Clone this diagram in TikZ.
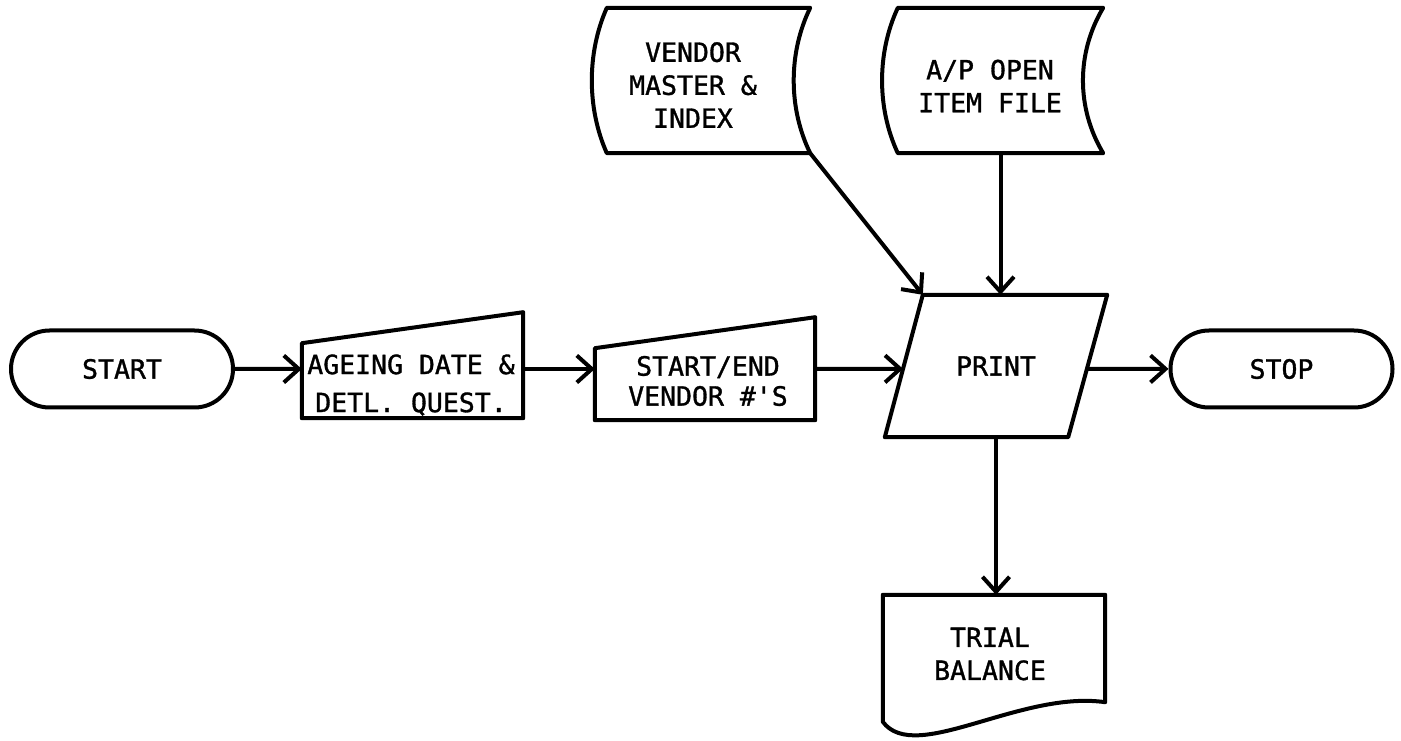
\documentclass[tikz,border=0pt]{standalone}
\usepackage{fontspec}
\usepackage{tikz}
\usetikzlibrary{positioning,arrows.meta,calc,shapes.misc}
\newfontfamily\fontfluxo{DejaVu Sans Mono}[FakeBold=1.2]

\begin{document}
\begin{tikzpicture}[x=1pt, y=1pt,
    traco/.style={line width=4pt, line join=round},
    seta/.style={traco, -{Straight Barb[length=15pt, width=27pt]}},
    texto/.style={font=\fontfluxo\fontsize{26.5}{33}\selectfont, align=center, inner sep=0pt},
    terminal/.style={traco, texto, draw, rounded rectangle, minimum width=222pt, minimum height=77pt},
    moldura/.style 2 args={inner sep=0pt, minimum width=#1, minimum height=#2}]
    \useasboundingbox (0,0) rectangle (1401,740);
    % Linha principal
    \node[terminal] (start) at (122,371) {START};
    \node[moldura={221pt}{98pt}] (ageing) at (412.5,371) {};
    \node[texto] (ageingtxt) at (411,355) {AGEING DATE \&\\[5pt]DETL. QUEST.};
    \node[moldura={220pt}{102pt}] (limites) at (705,371) {};
    \node[texto] (limitestxt) at (708,359) {START/END\\[-3pt]VENDOR \#\textquotesingle S};
    \node[moldura={222pt}{142pt}, texto] (print) at (996,374) {PRINT};
    \node[terminal] (stop) at (1281.5,371) {STOP};
    % Arquivos de entrada
    \node[moldura={203pt}{145pt}] (vendor) at (708.5,659.5) {};
    \node[texto] (vendortxt) at (693,655) {VENDOR\\MASTER \&\\INDEX};
    \node[moldura={205pt}{145pt}] (aberto) at (1000.5,659.5) {};
    \node[texto] (abertotxt) at (990,654) {A/P OPEN\\ITEM FILE};
    % Relatorio
    \node[moldura={222pt}{107pt}] (balancete) at (994,91.5) {};
    \node[texto] (balancetetxt) at (990,86) {TRIAL\\BALANCE};
    % Entrada manual (lado esquerdo mais baixo)
    \draw[traco] (ageing.south west) -- (ageing.south east) -- ++(0,106)
        -- ($(ageing.south west)+(0,75)$) -- cycle;
    \draw[traco] (limites.south west) -- (limites.south east) -- ++(0,103)
        -- ($(limites.south west)+(0,72)$) -- cycle;
    % Paralelogramo de saida
    \coordinate (printSE) at ($(print.south east)+(-39,0)$);
    \coordinate (printNO) at ($(print.north west)+(38,0)$);
    \draw[traco] (print.south west) -- (printSE) -- (print.north east) -- (printNO) -- cycle;
    \coordinate (printEsq) at ($(print.south west)!0.48!(printNO)$);
    \coordinate (printDir) at ($(printSE)!0.48!(print.north east)$);
    % Dados armazenados
    \draw[traco] (vendor.south west) .. controls +(-20,45) and +(-20,-45) .. (vendor.north west)
        -- (vendor.north east) .. controls +(-22,-45) and +(-22,45) .. (vendor.south east) -- cycle;
    \draw[traco] (aberto.south west) .. controls +(-21,45) and +(-21,-45) .. (aberto.north west)
        -- (aberto.north east) .. controls +(-27,-45) and +(-27,45) .. (aberto.south east) -- cycle;
    % Documento
    \draw[traco] (balancete.north west) -- (balancete.north east) -- (balancete.south east)
        .. controls (1020,50) and (915,-25) .. ($(balancete.north west)+(0,-127)$) -- cycle;
    % Fluxo
    \draw[seta] (start) -- (ageing);
    \draw[seta] (ageing) -- (limites);
    \draw[seta] (limites) -- (printEsq);
    \draw[seta] (printDir) -- (stop);
    \draw[seta] (vendor.south east) -- (printNO);
    \draw[seta] (aberto.south) -- (aberto.south |- print.north);
    \draw[seta] (print.south) -- (print.south |- balancete.north);
\end{tikzpicture}
\end{document}
